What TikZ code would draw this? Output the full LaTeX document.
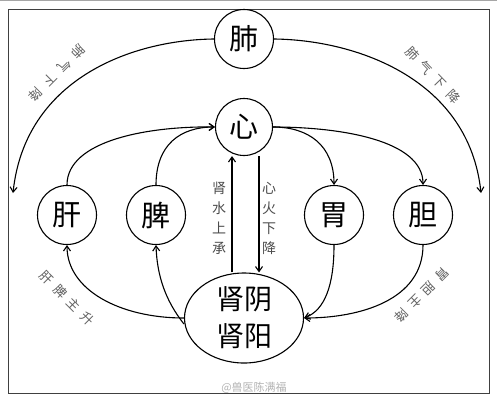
\documentclass[tikz,border=0pt]{standalone}
\usepackage{fontspec}
\setmainfont{Noto Sans CJK SC}
\usetikzlibrary{shapes.geometric,arrows.meta}
\tikzset{
  organ/.style={circle,draw,line width=1.1pt,minimum size=59pt,inner sep=0pt,font=\fontsize{29}{30}\selectfont},
  flow/.style={line width=1.1pt,-{Straight Barb[length=5pt,width=7pt]}},
  lbl/.style={text=black!70,font=\fontsize{14}{20}\selectfont,align=center,inner sep=0pt},
  diag/.style={text=black!62,font=\fontsize{13}{13}\selectfont,inner sep=0pt},
}
\begin{document}
\begin{tikzpicture}[x=1pt,y=-1pt]
\useasboundingbox (0,0) rectangle (497,402);
\draw[black!35] (0,0.5) -- (497,0.5);
\draw[black!75,line width=0.9pt] (8,9) rectangle (489,393);

\node[organ] (fei) at (244,39) {肺};
\node[organ,minimum size=57pt] (xin) at (244,127) {心};
\node[organ] (gan) at (67,215) {肝};
\node[organ] (pi) at (156,215) {脾};
\node[organ] (wei) at (334,215) {胃};
\node[organ] (dan) at (423,215) {胆};
\node[ellipse,draw,line width=1.1pt,minimum width=119pt,minimum height=90pt,inner sep=0pt,align=center,font=\fontsize{28}{37}\selectfont] (shen) at (244,318) {肾阴\\肾阳};

\coordinate (lend) at (13,193);
\coordinate (rend) at (481,193);

% lung descending
\draw[flow] (fei.west) .. controls (130,40) and (25,80) .. (lend);
\draw[flow] (fei.east) .. controls (358,40) and (469,80) .. (rend);

% rising to heart
\draw[flow] (gan.north) .. controls (67,140) and (150,126) .. (xin.west);
\draw[flow] (pi.north) .. controls (156,145) and (180,127) .. (xin.west);

% heart descending
\draw[flow] (xin.east) .. controls (308,127) and (334,145) .. (wei.north);
\draw[flow] (xin.east) .. controls (340,127) and (423,140) .. (dan.north);

% kidney-heart
\draw[flow] ([xshift=-12pt]shen.north) -- ([xshift=-12pt]xin.south);
\draw[flow] ([xshift=15pt]xin.south) -- ([xshift=15pt]shen.north);

% kidney to liver/spleen
\draw[flow] (shen.west) .. controls (120,318) and (67,290) .. (gan.south);
\draw[flow] ([yshift=-6pt]shen.west) .. controls (165,300) and (157,275) .. (pi.south);

% stomach/gallbladder to kidney
\draw[flow] (wei.south) .. controls (334,285) and (325,310) .. (shen.east);
\draw[flow] (dan.south) .. controls (423,300) and (360,318) .. (shen.east);

% labels
\node[lbl] (l1) at (219,218) {肾\\水\\上\\承};
\node[lbl] (l2) at (269,218) {心\\火\\下\\降};

\node[diag,rotate=225] (t1) at (57,73) {肺\hspace{7pt}气\hspace{7pt}下\hspace{7pt}降};
\node[diag,rotate=-46] (t2) at (433,75) {肺\hspace{7pt}气\hspace{7pt}下\hspace{7pt}降};
\node[diag,rotate=-45] (t3) at (67,298) {肝\hspace{6pt}脾\hspace{6pt}主\hspace{6pt}升};
\node[diag,rotate=225] (t4) at (422,295) {胃\hspace{6pt}胆\hspace{6pt}主\hspace{6pt}降};

\node[text=black!30,font=\fontsize{11}{11}\selectfont,inner sep=0pt] (wm) at (254,388) {@兽医陈满福};
\end{tikzpicture}
\end{document}
